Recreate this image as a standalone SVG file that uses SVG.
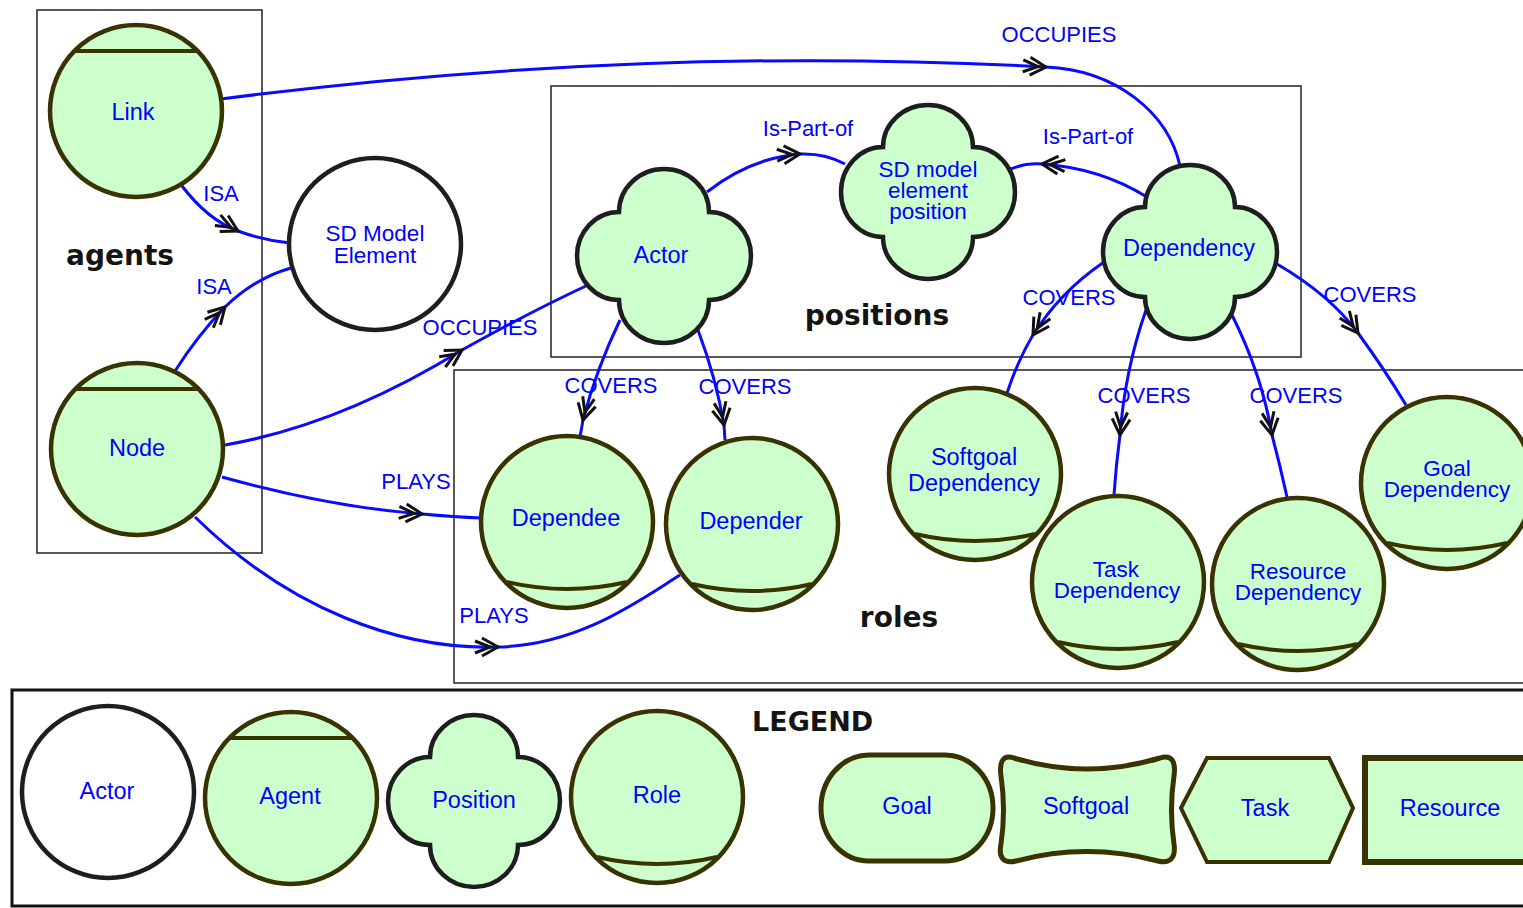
<svg xmlns="http://www.w3.org/2000/svg" xmlns:xlink="http://www.w3.org/1999/xlink" width="1523" height="908" viewBox="0 0 1523 908">
  <style>
    .box { fill: none; stroke: #222; stroke-width: 1.5; }
    .legendbox { fill: none; stroke: #111; stroke-width: 3; }
    .agent, .role { fill: #ccffcc; stroke: #383300; stroke-width: 4.5; }
    .pos { fill: #ccffcc; stroke: #1e1e1e; stroke-width: 4.5; }
    .actor { fill: #ffffff; stroke: #1e1e1e; stroke-width: 4.5; }
    .ie { fill: #ccffcc; stroke: #383300; stroke-width: 5; }
    .chord { fill: none; stroke: #383300; stroke-width: 4; }
    .edge { fill: none; stroke: #0a0aff; stroke-width: 3; }
    .lbl { font-family: "Liberation Sans", Arial, sans-serif; font-size: 23.5px; fill: #0000ff; text-anchor: middle; }
    .ml { font-size: 22.5px; }
    .elbl { font-family: "Liberation Sans", Arial, sans-serif; font-size: 22px; fill: #0000ff; text-anchor: middle; }
    .grp { font-family: "DejaVu Sans", Verdana, sans-serif; font-weight: bold; font-size: 28px; fill: #141414; text-anchor: middle; }
  </style>
  <defs>
    <!-- double chevron arrowhead, tip at origin, pointing along +x -->
    <g id="ah">
      <path d="M -16,-9 L 0,0 L -16,9 M -23,-6 L -8,0 L -23,6" fill="none" stroke="#111" stroke-width="3"/>
    </g>
  </defs>

  <rect width="1523" height="908" fill="#ffffff"/>

  <!-- group frames -->
  <g id="frames">
    <rect class="box" x="37" y="10" width="225" height="543"/>
    <rect class="box" x="551" y="86" width="750" height="271"/>
    <rect class="box" x="454" y="370" width="1100" height="313"/>
    <rect class="legendbox" x="12" y="690" width="1530" height="216"/>
    <text class="grp" x="120" y="265">agents</text>
    <text class="grp" x="877" y="325">positions</text>
    <text class="grp" x="899" y="627">roles</text>
    <text class="grp" x="752" y="731" style="text-anchor:start;font-size:27px">LEGEND</text>
  </g>

  <!-- connectors -->
  <g id="connectors">
    <path class="edge" d="M 221,99 Q 640,45 1046,67 C 1115,70 1168,112 1180,166"/>
    <path class="edge" d="M 182,186 Q 208,220 238,231 Q 262,240 290,243"/>
    <path class="edge" d="M 175,371 Q 198,335 225,307 Q 255,278 291,268"/>
    <path class="edge" d="M 225,445 Q 340,425 462,350 Q 530,312 588,285"/>
    <path class="edge" d="M 222,477 Q 330,507 422,514 Q 455,517 481,518"/>
    <path class="edge" d="M 195,517 C 290,610 400,650 498,647 C 580,645 640,600 680,575"/>
    <path class="edge" d="M 707,192 Q 750,158 800,154 Q 825,153 845,164"/>
    <path class="edge" d="M 1147,197 Q 1100,168 1042,164 Q 1025,163 1011,169"/>
    <path class="edge" d="M 1104,262 Q 1060,292 1033,335 Q 1018,360 1007,393"/>
    <path class="edge" d="M 1146,310 Q 1125,370 1120,435 Q 1116,465 1114,495"/>
    <path class="edge" d="M 1232,315 Q 1262,375 1272,435 Q 1280,465 1287,497"/>
    <path class="edge" d="M 1277,264 Q 1330,295 1358,333 Q 1385,370 1406,405"/>
    <path class="edge" d="M 620,320 Q 596,370 583,420 L 580,437"/>
    <path class="edge" d="M 698,330 Q 716,378 724,425 L 725,440"/>

    <use xlink:href="#ah" transform="translate(1046,67) rotate(3)"/>
    <use xlink:href="#ah" transform="translate(238,231) rotate(28)"/>
    <use xlink:href="#ah" transform="translate(225,307) rotate(-46)"/>
    <use xlink:href="#ah" transform="translate(462,350) rotate(-31)"/>
    <use xlink:href="#ah" transform="translate(422,514) rotate(4)"/>
    <use xlink:href="#ah" transform="translate(498,647) rotate(0)"/>
    <use xlink:href="#ah" transform="translate(800,154) rotate(-3)"/>
    <use xlink:href="#ah" transform="translate(1042,164) rotate(184)"/>
    <use xlink:href="#ah" transform="translate(1033,335) rotate(122)"/>
    <use xlink:href="#ah" transform="translate(1120,435) rotate(94)"/>
    <use xlink:href="#ah" transform="translate(1272,435) rotate(80)"/>
    <use xlink:href="#ah" transform="translate(1358,333) rotate(54)"/>
    <use xlink:href="#ah" transform="translate(583,420) rotate(104)"/>
    <use xlink:href="#ah" transform="translate(724,425) rotate(80)"/>

    <text class="elbl" x="1059" y="42">OCCUPIES</text>
    <text class="elbl" x="221" y="201">ISA</text>
    <text class="elbl" x="214" y="294">ISA</text>
    <text class="elbl" x="480" y="335">OCCUPIES</text>
    <text class="elbl" x="416" y="489">PLAYS</text>
    <text class="elbl" x="494" y="623">PLAYS</text>
    <text class="elbl" x="808" y="136">Is-Part-of</text>
    <text class="elbl" x="1088" y="144">Is-Part-of</text>
    <text class="elbl" x="1069" y="305">COVERS</text>
    <text class="elbl" x="1370" y="302">COVERS</text>
    <text class="elbl" x="611" y="393">COVERS</text>
    <text class="elbl" x="745" y="394">COVERS</text>
    <text class="elbl" x="1144" y="403">COVERS</text>
    <text class="elbl" x="1296" y="403">COVERS</text>
  </g>

  <!-- agents -->
  <g id="link">
    <circle class="agent" cx="136" cy="111" r="86"/>
    <line class="chord" x1="75" y1="51" x2="197" y2="51"/>
    <text class="lbl" x="133" y="120">Link</text>
  </g>
  <g id="node">
    <circle class="agent" cx="137" cy="449" r="86"/>
    <line class="chord" x1="76" y1="389" x2="198" y2="389"/>
    <text class="lbl" x="137" y="456">Node</text>
  </g>

  <!-- actor -->
  <g id="sd-model-element">
    <circle class="actor" cx="375" cy="244" r="86"/>
    <text class="lbl ml" x="375" y="241">SD Model</text>
    <text class="lbl ml" x="375" y="263">Element</text>
  </g>

  <!-- positions -->
  <g id="actor">
    <path class="pos" d="M 619,212 A 45 43 0 0 1 709,212 A 42 44 0 0 1 709,300 A 45 43 0 0 1 619,300 A 42 44 0 0 1 619,212 Z"/>
    <text class="lbl" x="661" y="263">Actor</text>
  </g>
  <g id="sd-model-element-position">
    <path class="pos" d="M 883,147 A 45 42 0 0 1 973,147 A 42 45 0 0 1 973,237 A 45 42 0 0 1 883,237 A 42 45 0 0 1 883,147 Z"/>
    <text class="lbl ml" x="928" y="177">SD model</text>
    <text class="lbl ml" x="928" y="198">element</text>
    <text class="lbl ml" x="928" y="219">position</text>
  </g>
  <g id="dependency">
    <path class="pos" d="M 1145,207 A 45 42 0 0 1 1235,207 A 42 45 0 0 1 1235,297 A 45 42 0 0 1 1145,297 A 42 45 0 0 1 1145,207 Z"/>
    <text class="lbl" x="1189" y="256">Dependency</text>
  </g>

  <!-- roles -->
  <g id="dependee">
    <circle class="role" cx="567" cy="522" r="86"/>
    <path class="chord" d="M 507,582 Q 567,596 627,582"/>
    <text class="lbl" x="566" y="526">Dependee</text>
  </g>
  <g id="depender">
    <circle class="role" cx="752" cy="524" r="86"/>
    <path class="chord" d="M 692,584 Q 752,598 812,584"/>
    <text class="lbl" x="751" y="529">Depender</text>
  </g>
  <g id="softgoal-dependency">
    <circle class="role" cx="975" cy="474" r="86"/>
    <path class="chord" d="M 915,534 Q 975,548 1035,534"/>
    <text class="lbl" x="974" y="465">Softgoal</text>
    <text class="lbl" x="974" y="491">Dependency</text>
  </g>
  <g id="task-dependency">
    <circle class="role" cx="1118" cy="582" r="86"/>
    <path class="chord" d="M 1058,642 Q 1118,656 1178,642"/>
    <text class="lbl ml" x="1116" y="577">Task</text>
    <text class="lbl ml" x="1117" y="598">Dependency</text>
  </g>
  <g id="resource-dependency">
    <circle class="role" cx="1298" cy="584" r="86"/>
    <path class="chord" d="M 1238,644 Q 1298,658 1358,644"/>
    <text class="lbl ml" x="1298" y="579">Resource</text>
    <text class="lbl ml" x="1298" y="600">Dependency</text>
  </g>
  <g id="goal-dependency">
    <circle class="role" cx="1447" cy="483" r="86"/>
    <path class="chord" d="M 1387,543 Q 1447,557 1507,543"/>
    <text class="lbl ml" x="1447" y="476">Goal</text>
    <text class="lbl ml" x="1447" y="497">Dependency</text>
  </g>

  <!-- legend -->
  <g id="legend-actor">
    <circle class="actor" cx="108" cy="792" r="86"/>
    <text class="lbl" x="107" y="799">Actor</text>
  </g>
  <g id="legend-agent">
    <circle class="agent" cx="291" cy="798" r="86"/>
    <line class="chord" x1="230" y1="738" x2="352" y2="738"/>
    <text class="lbl" x="290" y="804">Agent</text>
  </g>
  <g id="legend-position">
    <path class="pos" d="M 430,757 A 44 42 0 0 1 518,757 A 42 44 0 0 1 518,845 A 44 42 0 0 1 430,845 A 42 44 0 0 1 430,757 Z"/>
    <text class="lbl" x="474" y="808">Position</text>
  </g>
  <g id="legend-role">
    <circle class="role" cx="657" cy="797" r="86"/>
    <path class="chord" d="M 597,857 Q 657,871 717,857"/>
    <text class="lbl" x="657" y="803">Role</text>
  </g>
  <g id="legend-goal">
    <rect class="ie" x="821" y="755" width="172" height="106" rx="48" ry="53"/>
    <text class="lbl" x="907" y="814">Goal</text>
  </g>
  <g id="legend-softgoal">
    <path class="ie" d="M 1014,758 Q 1087,780 1160,758 C 1172,754 1176,762 1174,776 Q 1169,810 1174,844 C 1176,858 1170,864 1158,861 Q 1087,842 1016,861 C 1004,864 998,858 1001,844 Q 1006,810 1001,776 C 999,762 1003,754 1014,758 Z"/>
    <text class="lbl" x="1086" y="814">Softgoal</text>
  </g>
  <g id="legend-task">
    <polygon class="ie" style="stroke-width:4" points="1181,808 1207,758 1329,758 1353,808 1329,862 1207,862"/>
    <text class="lbl" x="1265" y="816">Task</text>
  </g>
  <g id="legend-resource">
    <rect class="ie" style="stroke-width:6" x="1365" y="758" width="200" height="104"/>
    <text class="lbl" x="1450" y="816">Resource</text>
  </g>
</svg>
